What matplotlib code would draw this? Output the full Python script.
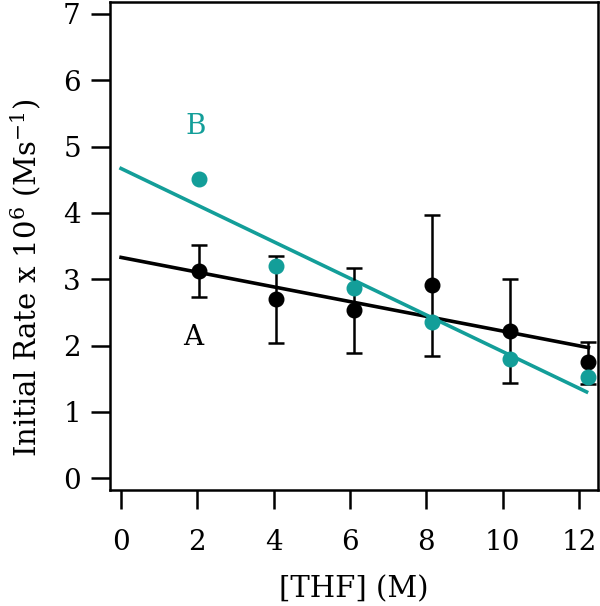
import numpy as np
import matplotlib.pyplot as plt

plt.rcParams['font.family'] = ['DejaVu Serif']
plt.rcParams['mathtext.fontset'] = 'custom'
plt.rcParams['mathtext.rm'] = 'DejaVu Serif'
plt.rcParams['mathtext.default'] = 'regular'

# [THF] (M)
thf = [2.05, 4.05, 6.1, 8.15, 10.2, 12.25]

# series A (black) with error bars
rate_a = [3.13, 2.71, 2.53, 2.91, 2.22, 1.75]
err_a_lo = [0.40, 0.67, 0.64, 1.07, 0.79, 0.33]
err_a_hi = [0.38, 0.64, 0.64, 1.06, 0.79, 0.31]

# series B (teal)
rate_b = [4.51, 3.20, 2.87, 2.36, 1.80, 1.52]

# linear fits: intercept, slope, end x
fit_a = (3.33, -0.111, 12.25)
fit_b = (4.67, -0.276, 12.2)

teal = '#139e99'

fig = plt.figure(figsize=(6.0, 6.06), dpi=100)
ax = fig.add_axes([110/600, 1-490/606, 488/600, 488/606])

xa = np.array([0, fit_a[2]])
ax.plot(xa, fit_a[0] + fit_a[1]*xa, color='black', lw=2.6, zorder=2)
xb = np.array([0, fit_b[2]])
ax.plot(xb, fit_b[0] + fit_b[1]*xb, color=teal, lw=2.6, zorder=2)

ax.errorbar(thf, rate_a, yerr=[err_a_lo, err_a_hi], fmt='o', color='black',
            ms=10.5, elinewidth=1.8, capsize=5.5, capthick=1.8, zorder=3)
ax.plot(thf, rate_b, 'o', color=teal, ms=10.5, zorder=4)

ax.text(1.95, 5.3, 'B', color=teal, fontsize=20, ha='center', va='center')
ax.text(1.9, 2.13, 'A', color='black', fontsize=20, ha='center', va='center')

ax.set_xlim(-0.29, 12.5)
ax.set_ylim(-0.176, 7.18)
ax.set_xticks(range(0, 13, 2))
ax.set_yticks(range(0, 8))
ax.tick_params(direction='out', length=14, width=1.8, labelsize=20)
ax.tick_params(axis='x', pad=14)
ax.tick_params(axis='y', pad=7)
for s in ax.spines.values():
    s.set_linewidth(1.8)

ax.set_xlabel('[THF] (M)', fontsize=21, labelpad=14)
ax.set_ylabel(r'Initial Rate x 10$^{6}$ (Ms$^{-1}$)', fontsize=21)
ax.yaxis.set_label_coords(-0.138, 0.435)

fig.savefig('out.png', dpi=100)
